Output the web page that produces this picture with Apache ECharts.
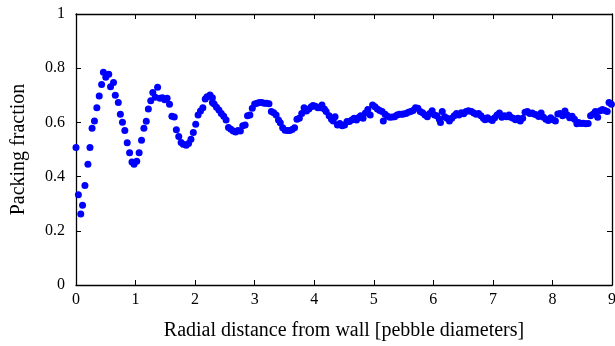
<!DOCTYPE html>
<html><head><meta charset="utf-8">
<script src="https://cdn.jsdelivr.net/npm/echarts@6/dist/echarts.min.js"></script>
<style>html,body{margin:0;padding:0;background:#fff}#c{width:615px;height:346px}</style>
</head><body><div id="c"></div>
<script>
const xTicks = [0,1,2,3,4,5,6,7,8,9];
const yTicks = [0,0.2,0.4,0.6,0.8,1];
const distance = [
0,0.04,0.08,0.11,0.15,0.2,0.235,0.27,0.31,0.35,0.39,0.43,0.46,0.5,0.55,0.58,0.63,0.66,0.71,0.745,0.78,0.82,0.86,0.9,0.94,0.975,1.02,1.06,1.1,1.14,1.18,1.215,1.255,1.29,1.33,1.37,1.41,1.45,1.49,1.53,1.57,1.61,1.65,1.685,1.725,1.765,1.8,1.85,1.89,1.93,1.97,2.01,2.05,2.09,2.13,2.17,2.2,2.25,2.29,2.29,2.32,2.36,2.4,2.44,2.48,2.52,2.56,2.6,2.64,2.68,2.72,2.76,2.8,2.84,2.88,2.92,2.96,3.0,3.04,3.08,3.12,3.16,3.2,3.24,3.28,3.32,3.36,3.4,3.43,3.47,3.51,3.55,3.59,3.63,3.67,3.71,3.75,3.79,3.83,3.87,3.91,3.95,3.98,4.02,4.06,4.1,4.13,4.17,4.2,4.25,4.29,4.32,4.35,4.39,4.43,4.47,4.51,4.55,4.59,4.63,4.67,4.71,4.74,4.78,4.82,4.86,4.9,4.94,4.98,5.02,5.06,5.1,5.14,5.16,5.19,5.23,5.27,5.31,5.35,5.39,5.43,5.47,5.5,5.54,5.58,5.62,5.66,5.7,5.74,5.78,5.82,5.86,5.9,5.94,5.98,6.02,6.06,6.1,6.12,6.15,6.19,6.23,6.27,6.31,6.35,6.39,6.43,6.47,6.51,6.55,6.59,6.64,6.68,6.72,6.76,6.8,6.84,6.87,6.91,6.95,6.99,7.03,7.07,7.11,7.15,7.19,7.23,7.27,7.3,7.34,7.38,7.42,7.46,7.5,7.54,7.58,7.62,7.66,7.7,7.74,7.77,7.81,7.85,7.89,7.93,7.97,8.01,8.05,8.09,8.13,8.17,8.21,8.25,8.29,8.33,8.37,8.41,8.44,8.48,8.52,8.56,8.6,8.64,8.68,8.72,8.76,8.8,8.84,8.88,8.92,8.95,8.99
];
const packing = [
0.507,0.333,0.262,0.294,0.367,0.446,0.507,0.578,0.605,0.654,0.697,0.74,0.785,0.767,0.778,0.732,0.747,0.7,0.673,0.63,0.601,0.57,0.525,0.488,0.454,0.446,0.457,0.488,0.534,0.578,0.604,0.649,0.68,0.71,0.693,0.73,0.689,0.691,0.684,0.689,0.667,0.623,0.62,0.573,0.548,0.526,0.519,0.516,0.522,0.538,0.563,0.593,0.627,0.642,0.654,0.686,0.695,0.701,0.691,0.673,0.668,0.656,0.646,0.633,0.623,0.609,0.581,0.575,0.568,0.565,0.57,0.568,0.588,0.59,0.625,0.627,0.652,0.668,0.671,0.673,0.673,0.671,0.671,0.669,0.64,0.636,0.627,0.609,0.599,0.58,0.571,0.57,0.57,0.574,0.58,0.612,0.615,0.633,0.654,0.642,0.649,0.658,0.662,0.66,0.654,0.654,0.664,0.649,0.64,0.625,0.612,0.605,0.621,0.59,0.596,0.588,0.59,0.603,0.603,0.609,0.615,0.609,0.617,0.625,0.615,0.635,0.648,0.627,0.664,0.658,0.649,0.644,0.64,0.605,0.63,0.623,0.619,0.62,0.621,0.627,0.63,0.63,0.631,0.633,0.637,0.64,0.644,0.654,0.652,0.64,0.636,0.627,0.621,0.633,0.643,0.627,0.625,0.612,0.6,0.64,0.621,0.615,0.605,0.615,0.625,0.633,0.627,0.636,0.632,0.64,0.643,0.64,0.635,0.63,0.633,0.625,0.615,0.61,0.617,0.612,0.607,0.617,0.627,0.635,0.619,0.625,0.621,0.627,0.619,0.615,0.61,0.615,0.605,0.615,0.637,0.64,0.633,0.635,0.63,0.627,0.622,0.635,0.619,0.612,0.607,0.617,0.61,0.605,0.631,0.633,0.625,0.642,0.627,0.617,0.623,0.612,0.595,0.6,0.596,0.597,0.595,0.596,0.625,0.63,0.64,0.619,0.643,0.648,0.644,0.64,0.673,0.667
];
const points = distance.map((d,i)=>[d,packing[i]]);
const font = '"Liberation Serif", "Times New Roman", serif';
const chart = echarts.init(document.getElementById('c'));
const axisCommon = {
  axisLine:{show:true,onZero:false,lineStyle:{color:'#000',width:1.3}},
  axisTick:{show:true,inside:true,length:5,lineStyle:{color:'#000',width:1}},
  splitLine:{show:false}
};
chart.setOption({
  animation:false,
  grid:{left:76,right:3,top:14,bottom:61,containLabel:false,outerBoundsMode:'none'},
  xAxis:[
    Object.assign({type:'value',min:0,max:9,interval:1,position:'bottom',
      name:'Radial distance from wall [pebble diameters]',nameLocation:'middle',nameGap:36,
      nameTextStyle:{fontFamily:font,fontSize:20,color:'#000'},
      axisLabel:{fontFamily:font,fontSize:16,color:'#000',margin:7,
        formatter:v=>xTicks.includes(v)?String(v):''}},axisCommon),
    Object.assign({type:'value',min:0,max:9,interval:1,position:'top',axisLabel:{show:false}},axisCommon)
  ],
  yAxis:[
    Object.assign({type:'value',min:0,max:1,interval:0.2,position:'left',
      name:'Packing fraction',nameLocation:'middle',nameGap:47,
      nameTextStyle:{fontFamily:font,fontSize:20,color:'#000'},
      axisLabel:{fontFamily:font,fontSize:16,color:'#000',margin:11,
        formatter:v=>{const t=yTicks.find(y=>Math.abs(y-v)<1e-9);return t===undefined?'':String(t);}}},axisCommon),
    Object.assign({type:'value',min:0,max:1,interval:0.2,position:'right',axisLabel:{show:false}},axisCommon)
  ],
  series:[{
    type:'scatter',xAxisIndex:0,yAxisIndex:0,data:points,
    symbol:'circle',symbolSize:7,
    itemStyle:{color:'#0000ff',opacity:1},
    clip:true
  }]
});
</script></body></html>
